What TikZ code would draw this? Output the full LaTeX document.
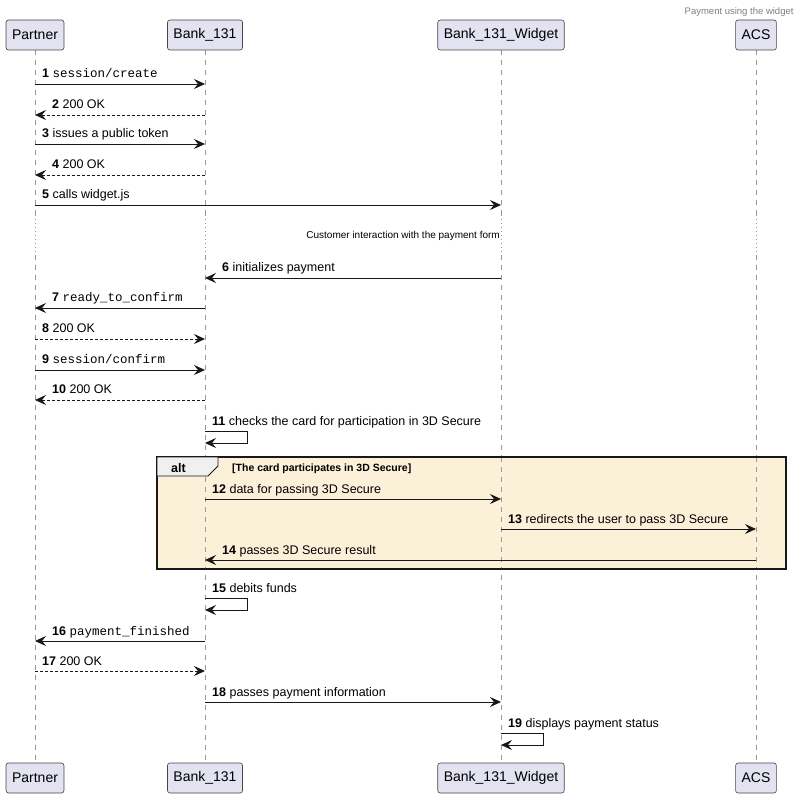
\documentclass[tikz,border=0pt]{standalone}
\usepackage{fontspec}
\setmainfont{Liberation Sans}
\newfontfamily\monof{Liberation Mono}
\usetikzlibrary{arrows.meta}
\definecolor{pbox}{HTML}{E2E2F0}
\definecolor{pline}{HTML}{181818}
\definecolor{altbg}{HTML}{FBF0D8}
\tikzset{
 part/.style={draw=pline!80,fill=pbox,rounded corners=2.5pt,minimum height=30pt,inner xsep=6pt,font=\fontsize{14}{16}\selectfont,line width=0.6pt},
 life/.style={draw=gray!80,dash pattern=on 5pt off 5pt,line width=0.6pt},
 lifedot/.style={draw=gray!80,dash pattern=on 1pt off 3pt,line width=0.8pt},
 msg/.style={draw=pline,line width=0.9pt,-{Stealth[length=11pt,width=10pt,inset=4pt]}},
 ret/.style={msg,dash pattern=on 3pt off 2pt},
 lab/.style={font=\fontsize{12.5}{14}\selectfont,inner sep=0pt,anchor=base west},
}
\newcommand{\nb}[1]{\textbf{#1} }
\begin{document}
\begin{tikzpicture}[x=1pt,y=-1pt]
\useasboundingbox (0,0) rectangle (803,799);
\node[font=\fontsize{9.5}{10}\selectfont,text=gray,anchor=base east] (title) at (797,15) {Payment using the widget};
% lifelines
\foreach \n/\x in {p/35,b/205,w/501,a/756}{
 \coordinate (\n t) at (\x,50); \coordinate (\n m1) at (\x,215); \coordinate (\n m2) at (\x,255); \coordinate (\n e) at (\x,763);
 \draw[life] (\n t) -- (\n m1); \draw[lifedot] (\n m1) -- (\n m2); \draw[life] (\n m2) -- (\n e);
}
% alt box
\fill[altbg] (157,457) rectangle (786,569);
\foreach \x in {205,501,756} \draw[life] (\x,457) -- (\x,569);
\draw[pline,line width=1.4pt] (157,457) rectangle (786,569);
\draw[pline,line width=0.8pt,fill=gray!12] (157,457) -- (218,457) -- (218,466) -- (208,476) -- (157,476) -- cycle;
\node[font=\bfseries\fontsize{12.5}{14}\selectfont,anchor=base west,inner sep=0] (alt) at (171,472) {alt};
\node[font=\bfseries\fontsize{10.5}{12}\selectfont,anchor=base west,inner sep=0] (guard) at (232,471) {[The card participates in 3D Secure]};
% participants
\foreach \n/\x/\t in {p/35/Partner,b/205/Bank\_131,w/501/Bank\_131\_Widget,a/756/ACS}{
 \node[part] (\n top) at (\x,35) {\t};
 \node[part] (\n bot) at (\x,778) {\t};
}
% divider text
\node[font=\fontsize{10}{11}\selectfont,anchor=base east,inner sep=0] (div) at (500,239) {Customer interaction with the payment form};
% messages
\newcommand{\mymsg}[6]{% style, fromx, tox, y, labelx, label
 \coordinate (s#4) at (#2,#4); \coordinate (e#4) at (#3,#4);
 \draw[#1] (s#4) -- (e#4);
 \node[lab] at (#5,#4-6) {#6};}
\mymsg{msg}{35}{205}{84}{42}{\nb{1}{\monof session/create}}
\mymsg{ret}{205}{35}{115}{52}{\nb{2}200 OK}
\mymsg{msg}{35}{205}{144}{42}{\nb{3}issues a public token}
\mymsg{ret}{205}{35}{175}{52}{\nb{4}200 OK}
\mymsg{msg}{35}{501}{205}{42}{\nb{5}calls widget.js}
\mymsg{msg}{501}{205}{278}{222}{\nb{6}initializes payment}
\mymsg{msg}{205}{35}{308}{52}{\nb{7}{\monof ready\_to\_confirm}}
\mymsg{ret}{35}{205}{339}{42}{\nb{8}200 OK}
\mymsg{msg}{35}{205}{370}{42}{\nb{9}{\monof session/confirm}}
\mymsg{ret}{205}{35}{400}{52}{\nb{10}200 OK}
\mymsg{msg}{205}{501}{499}{212}{\nb{12}data for passing 3D Secure}
\mymsg{msg}{501}{756}{529}{508}{\nb{13}redirects the user to pass 3D Secure}
\mymsg{msg}{756}{205}{560}{222}{\nb{14}passes 3D Secure result}
\mymsg{msg}{205}{35}{641}{52}{\nb{16}{\monof payment\_finished}}
\mymsg{ret}{35}{205}{671}{42}{\nb{17}200 OK}
\mymsg{msg}{205}{501}{702}{212}{\nb{18}passes payment information}
% self messages
\newcommand{\selfmsg}[4]{% x, y, labelx, label
 \coordinate (a#2) at (#1,#2); \coordinate (c#2) at (#1,#2+12);
 \draw[msg] (a#2) -- ++(42,0) -- ++(0,12) -- (c#2);
 \node[lab] at (#3,#2-6) {#4};}
\selfmsg{205}{431}{212}{\nb{11}checks the card for participation in 3D Secure}
\selfmsg{205}{598}{212}{\nb{15}debits funds}
\selfmsg{501}{733}{508}{\nb{19}displays payment status}
\end{tikzpicture}
\end{document}
